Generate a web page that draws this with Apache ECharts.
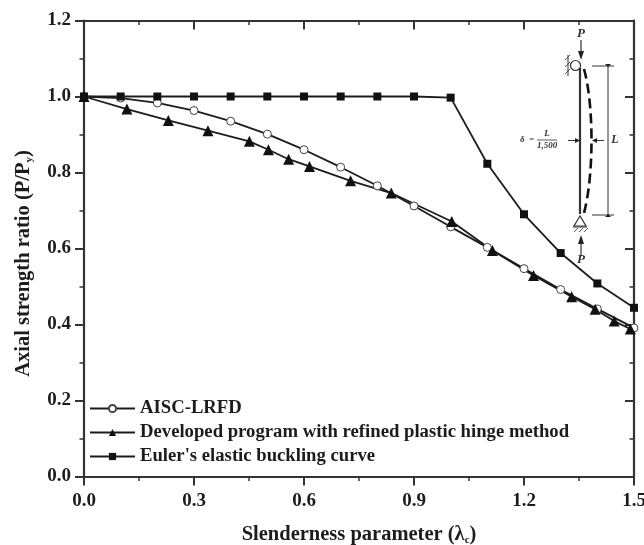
<!DOCTYPE html>
<html>
<head>
<meta charset="utf-8">
<title>Axial strength ratio</title>
<script src="https://cdn.jsdelivr.net/npm/echarts@6/dist/echarts.min.js"></script>
<style>
  html, body { margin: 0; padding: 0; background: #fff; }
  #chart { width: 644px; height: 545px; }
</style>
</head>
<body>
<div id="chart"></div>
<script>
// values: [slenderness, P/Py]
const aiscX = [0, 0.1, 0.2, 0.3, 0.4, 0.5, 0.6, 0.7, 0.8, 0.9, 1.0, 1.1, 1.2, 1.3, 1.4, 1.5];
const aiscY = [1.0, 0.996, 0.983, 0.963, 0.935, 0.901, 0.860, 0.814, 0.765, 0.712, 0.657, 0.603, 0.547, 0.492, 0.441, 0.391];
const refinedX = [0, 0.117, 0.23, 0.338, 0.451, 0.503, 0.558, 0.615, 0.727, 0.838, 1.003, 1.114, 1.226, 1.33, 1.394, 1.446, 1.49];
const refinedY = [1.0, 0.967, 0.937, 0.910, 0.882, 0.860, 0.835, 0.816, 0.778, 0.746, 0.671, 0.595, 0.529, 0.473, 0.440, 0.409, 0.388];
const eulerX = [0, 0.1, 0.2, 0.3, 0.4, 0.5, 0.6, 0.7, 0.8, 0.9, 1.0, 1.1, 1.2, 1.3, 1.4, 1.5];
const eulerY = [1.0, 1.0, 1.0, 1.0, 1.0, 1.0, 1.0, 1.0, 1.0, 1.0, 0.997, 0.823, 0.690, 0.588, 0.508, 0.444];

const seriesNames = ['AISC-LRFD', 'Developed program with refined plastic hinge method', "Euler's elastic buckling curve"];

const ink = '#1c1c1c';
const axisInk = '#333';
const serif = '"Liberation Serif", serif';

function pairs(xs, ys) {
  return xs.map((x, i) => [x, ys[i]]);
}

function lineSeries(name, xs, ys, symbol, size, fill) {
  return {
    name: name,
    type: 'line',
    data: pairs(xs, ys),
    xAxisIndex: 0,
    yAxisIndex: 0,
    symbol: symbol,
    symbolSize: size,
    showSymbol: true,
    clip: false,
    animation: false,
    lineStyle: { color: ink, width: 1.8 },
    itemStyle: { color: fill, borderColor: '#444', borderWidth: fill === '#fff' ? 1 : 0 },
    z: 3
  };
}

// title text with a small subscript part
const axisTitleStyle = {
  fontFamily: serif, fontWeight: 'bold', fontSize: 20.5, color: ink,
  rich: { s: { fontFamily: serif, fontWeight: 'bold', fontSize: 11, color: ink, verticalAlign: 'bottom', padding: [11, 0, 0, 0] } }
};
const tickLabel = { fontFamily: serif, fontWeight: 'bold', fontSize: 19, color: ink, formatter: v => v.toFixed(1) };
const axisLine = { show: true, onZero: false, lineStyle: { color: axisInk, width: 2.2 } };
const minorTick = { show: true, splitNumber: 2, length: 4.5, lineStyle: { color: axisInk, width: 1.5 } };

// pin-ended column sketch, drawn in page pixels
function seg(x1, y1, x2, y2, w, dash) {
  return {
    type: 'line',
    shape: { x1: x1, y1: y1, x2: x2, y2: y2 },
    style: { stroke: '#333', lineWidth: w || 1, lineDash: dash || null }
  };
}
function head(points) {
  return { type: 'polygon', shape: { points: points }, style: { fill: '#222' } };
}
function note(x, y, text, size, align) {
  return {
    type: 'text',
    x: x,
    y: y,
    style: {
      text: text,
      font: 'italic bold ' + size + 'px ' + serif,
      fill: '#333',
      align: align || 'center',
      verticalAlign: 'middle'
    }
  };
}

const sketch = [
  seg(580, 68, 580, 214, 2.2),
  { type: 'bezierCurve', shape: { x1: 584, y1: 69, cpx1: 594, cpy1: 105, cpx2: 594, cpy2: 175, x2: 584, y2: 213 },
    style: { stroke: '#111', lineWidth: 2.6, lineDash: [10, 5], fill: null } },
  { type: 'circle', shape: { cx: 575.5, cy: 65.5, r: 5 }, style: { fill: '#fff', stroke: '#333', lineWidth: 1.2 } },
  seg(568, 55, 568, 76, 1),
  seg(565, 60, 570, 55, 0.8), seg(565, 67, 570, 62, 0.8), seg(565, 74, 570, 69, 0.8),
  { type: 'polygon', shape: { points: [[580, 216], [574, 226], [586, 226]] }, style: { fill: '#fff', stroke: '#333', lineWidth: 1.2 } },
  seg(573, 227, 587, 227, 1),
  seg(574, 232, 578, 228, 0.8), seg(579, 232, 583, 228, 0.8), seg(584, 232, 588, 228, 0.8),
  seg(581, 40, 581, 54, 1.2), head([[581, 60], [578, 51], [584, 51]]),
  seg(581, 241, 581, 256, 1.2), head([[581, 235], [578, 244], [584, 244]]),
  seg(608, 66, 608, 215, 1),
  seg(592, 66, 614, 66, 1), seg(592, 215, 614, 215, 1),
  head([[608, 67], [605, 64], [611, 64]]), head([[608, 214], [605, 217], [611, 217]]),
  seg(568, 140.5, 578, 140.5, 1), head([[580, 140.5], [575, 138], [575, 143]]),
  seg(594, 140.5, 604, 140.5, 1), head([[592, 140.5], [597, 138], [597, 143]]),
  seg(537, 140, 557, 140, 0.8),
  note(581, 34, 'P', 13), note(581, 260, 'P', 13), note(615, 140, 'L', 12),
  note(547, 134, 'L', 9), note(547, 146, '1,500', 9),
  note(527, 140, 'δ  =', 9)
];

const chart = echarts.init(document.getElementById('chart'), null, { renderer: 'canvas' });

chart.setOption({
  animation: false,
  backgroundColor: '#fff',
  grid: { left: 84, right: 10, top: 20.5, bottom: 68.5, containLabel: false, outerBoundsMode: 'none' },
  legend: {
    orient: 'vertical',
    left: 89,
    top: 399,
    itemWidth: 45,
    itemHeight: 9,
    itemGap: 5,
    padding: 0,
    data: seriesNames,
    textStyle: { fontFamily: serif, fontWeight: 'bold', fontSize: 18.7, color: ink }
  },
  xAxis: [
    {
      type: 'value', min: 0, max: 1.5, interval: 0.3,
      name: 'Slenderness parameter (λ{s|c})',
      nameLocation: 'middle',
      nameGap: 47,
      nameTextStyle: axisTitleStyle,
      axisLine: axisLine,
      axisTick: { inside: false, length: 9, lineStyle: { color: axisInk, width: 2 } },
      minorTick: minorTick,
      axisLabel: Object.assign({ margin: 15 }, tickLabel),
      splitLine: { show: false }
    },
    {
      type: 'value', min: 0, max: 1.5, interval: 0.3, position: 'top',
      axisLine: axisLine,
      axisTick: { show: true, inside: true, length: 9, lineStyle: { color: axisInk, width: 2 } },
      minorTick: minorTick,
      axisLabel: { show: false },
      splitLine: { show: false }
    }
  ],
  yAxis: [
    {
      type: 'value', min: 0, max: 1.2, interval: 0.2,
      name: 'Axial strength ratio (P/P{s|y})',
      nameLocation: 'middle',
      nameGap: 49,
      nameTextStyle: Object.assign({ padding: [0, 30, 0, 0] }, axisTitleStyle),
      axisLine: axisLine,
      axisTick: { inside: false, length: 9, lineStyle: { color: axisInk, width: 2 } },
      minorTick: minorTick,
      axisLabel: Object.assign({ margin: 13 }, tickLabel),
      splitLine: { show: false }
    },
    {
      type: 'value', min: 0, max: 1.2, interval: 0.2, position: 'right',
      axisLine: axisLine,
      axisTick: { show: true, inside: true, length: 9, lineStyle: { color: axisInk, width: 2 } },
      minorTick: minorTick,
      axisLabel: { show: false },
      splitLine: { show: false }
    }
  ],
  series: [
    lineSeries(seriesNames[0], aiscX, aiscY, 'circle', 8, '#fff'),
    lineSeries(seriesNames[1], refinedX, refinedY, 'triangle', 11, '#111'),
    lineSeries(seriesNames[2], eulerX, eulerY, 'rect', 8, '#111')
  ],
  graphic: { elements: sketch.map(el => Object.assign({ z: 5, silent: true }, el)) }
});
</script>
</body>
</html>
